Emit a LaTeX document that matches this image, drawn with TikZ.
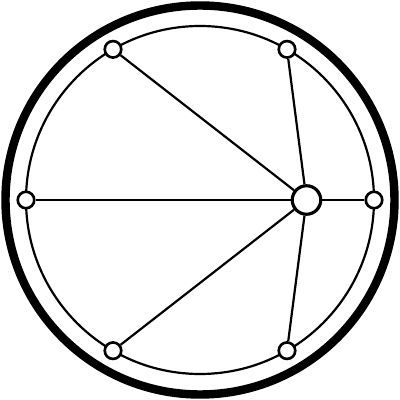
\documentclass[tikz,border=0pt]{standalone}
\usepackage{tikz}
\usetikzlibrary{positioning}

\tikzset{
    port/.style={circle, draw, fill=white, line width=1.5pt, inner sep=0pt, minimum size=0.33cm},
    hub/.style={circle, draw, fill=white, line width=1.8pt, inner sep=0pt, minimum size=0.57cm},
    spoke/.style={line width=1.25pt}
}

\begin{document}
\begin{tikzpicture}
    \useasboundingbox (-4,-4) rectangle (4,4);

    % Rims
    \draw[line width=4.8pt] (0,0) circle (3.89cm);
    \draw[line width=1.25pt] (0,0) circle (3.48cm);

    % Nodes on the inner rim
    \node[port] (p0) at (0:3.48) {};
    \node[port] (p60) at (60:3.48) {};
    \node[port] (p120) at (120:3.48) {};
    \node[port] (p180) at (180:3.48) {};
    \node[port] (p240) at (240:3.48) {};
    \node[port] (p300) at (300:3.48) {};

    % Hub
    \node[hub] (h) at (2.13,0) {};

    % Spokes
    \draw[spoke] (h) -- (p0);
    \draw[spoke] (h) -- (p60);
    \draw[spoke] (h) -- (p120);
    \draw[spoke] (h) -- (p180);
    \draw[spoke] (h) -- (p240);
    \draw[spoke] (h) -- (p300);
\end{tikzpicture}
\end{document}
